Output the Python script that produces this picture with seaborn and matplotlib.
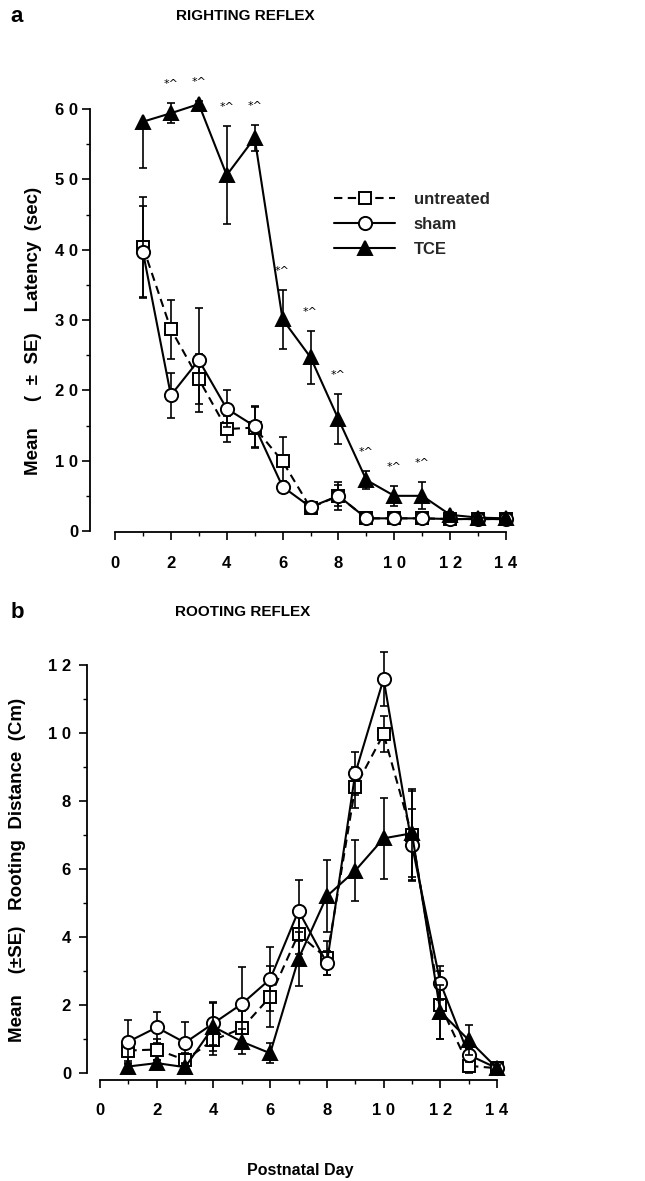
import matplotlib
matplotlib.use("Agg")
import matplotlib.pyplot as plt
from matplotlib.lines import Line2D
from matplotlib.ticker import FixedLocator
import numpy as np
import pandas as pd
import seaborn as sns

# ---------------- data ----------------
days = list(range(1, 15))
groups = ["untreated", "sham", "TCE"]

# Panel a: righting reflex latency (sec)
untreated_a = [40.4, 28.7, 21.6, 14.5, 14.7, 9.9, 3.3, 5.0, 1.8, 1.8, 1.8, 1.7, 1.7, 1.7]
untreated_a_se = [7.1, 4.2, 3.5, 1.9, 2.9, 3.5, 0.5, 2.0, 0.3, 0.3, 0.3, 0.2, 0.2, 0.2]
sham_a = [39.7, 19.3, 24.3, 17.4, 14.9, 6.3, 3.4, 5.0, 1.8, 1.8, 1.8, 1.7, 1.7, 1.7]
sham_a_se = [6.5, 3.2, 7.4, 2.6, 2.9, 0.8, 0.5, 1.5, 0.3, 0.3, 0.3, 0.2, 0.2, 0.2]
tce_a = [58.2, 59.4, 60.7, 50.6, 55.9, 30.1, 24.7, 15.9, 7.25, 5.0, 5.0, 2.3, 1.9, 1.8]
tce_a_se_lo = [6.6, 1.4, 0.5, 7.0, 1.8, 4.2, 3.8, 3.6, 1.3, 1.4, 1.9, 0.4, 0.2, 0.2]
tce_a_se_hi = [0.0, 1.4, 0.5, 7.0, 1.8, 4.2, 3.8, 3.6, 1.3, 1.4, 1.9, 0.4, 0.2, 0.2]
sig_days = [2, 3, 4, 5, 6, 7, 8, 9, 10, 11]
sig_label = "*^"

# Panel b: rooting distance (cm)
untreated_b = [0.67, 0.70, 0.39, 0.98, 1.32, 2.25, 4.10, 3.38, 8.41, 9.98, 7.00, 2.00, 0.22, 0.15]
untreated_b_se = [0.30, 0.30, 0.20, 0.45, 0.50, 0.90, 0.60, 0.50, 0.60, 0.52, 1.30, 1.00, 0.20, 0.10]
sham_b = [0.93, 1.35, 0.90, 1.47, 2.04, 2.77, 4.78, 3.24, 8.82, 11.60, 6.71, 2.66, 0.54, 0.15]
sham_b_se = [0.65, 0.45, 0.60, 0.63, 1.08, 0.95, 0.90, 0.35, 0.62, 0.80, 1.05, 0.50, 0.20, 0.10]
tce_b = [0.20, 0.30, 0.18, 1.37, 0.93, 0.59, 3.37, 5.21, 5.96, 6.91, 7.06, 1.81, 0.98, 0.15]
tce_b_se = [0.10, 0.10, 0.10, 0.70, 0.36, 0.30, 0.80, 1.05, 0.90, 1.20, 1.30, 0.80, 0.45, 0.10]

title_a = "RIGHTING REFLEX"
title_b = "ROOTING REFLEX"
ylabel_a = "Mean     (  \u00b1  SE)    Latency  (sec)"
ylabel_b = "Mean    (\u00b1SE)   Rooting  Distance  (Cm)"
xlabel = "Postnatal Day"
xticks = [0, 2, 4, 6, 8, 10, 12, 14]
yticks_a = [0, 10, 20, 30, 40, 50, 60]
yticks_b = [0, 2, 4, 6, 8, 10, 12]


def spaced(v):
    return " ".join(str(v))


# ---------------- style ----------------
sns.set_theme(style="ticks")
plt.rcParams["font.family"] = ["Liberation Sans", "DejaVu Sans"]
plt.rcParams["font.weight"] = "bold"

W, H = 645, 1181
fig = plt.figure(figsize=(W / 100, H / 100), dpi=100)


def px_axes(l, r, t, b):
    return fig.add_axes([l / W, 1 - b / H, (r - l) / W, (b - t) / H])


styles = {
    "untreated": dict(marker="s", ms=8.5, mfc="white", ls=(0, (4.0, 2.6))),
    "sham": dict(marker="o", ms=9.5, mfc="white", ls="-"),
    "TCE": dict(marker="^", ms=10, mfc="black", ls="-"),
}


def draw_panel(ax, vals, errs, yticks, minor_y):
    for i, g in enumerate(groups):
        st = styles[g]
        df = pd.DataFrame({"day": days, "value": vals[g]})
        ax.errorbar(days, vals[g], yerr=errs[g], fmt="none", ecolor="black",
                    elinewidth=1.2, capsize=2.6, capthick=1.2, zorder=2 + i)
        sns.lineplot(data=df, x="day", y="value", ax=ax, color="black",
                     marker=st["marker"], markersize=st["ms"],
                     markerfacecolor=st["mfc"], markeredgecolor="black",
                     markeredgewidth=1.4, linestyle=st["ls"], linewidth=1.5,
                     estimator=None, errorbar=None, clip_on=False,
                     zorder=3 + i)
    ax.set_xlabel("")
    ax.set_ylabel("")
    for s in ["top", "right"]:
        ax.spines[s].set_visible(False)
    for s in ["left", "bottom"]:
        ax.spines[s].set_linewidth(1.3)
        ax.spines[s].set_color("black")
    ax.spines["bottom"].set_bounds(0, 14)
    ax.spines["left"].set_bounds(yticks[0], yticks[-1])
    ax.set_xticks(xticks)
    ax.set_xticklabels([spaced(v) for v in xticks])
    ax.xaxis.set_minor_locator(FixedLocator(list(range(0, 15))))
    ax.set_yticks(yticks)
    ax.set_yticklabels([spaced(v) for v in yticks])
    ax.yaxis.set_minor_locator(FixedLocator(minor_y))
    ax.tick_params(axis="both", which="major", direction="out", length=5.5,
                   width=1.2, colors="black", labelsize=12)
    ax.tick_params(axis="both", which="minor", direction="out", length=3,
                   width=1.0, colors="black")
    for lab in ax.get_xticklabels() + ax.get_yticklabels():
        lab.set_fontweight("bold")


# ----- panel a -----
axa = px_axes(90, 520, 60, 532)
vals_a = {"untreated": untreated_a, "sham": sham_a, "TCE": tce_a}
errs_a = {"untreated": untreated_a_se, "sham": sham_a_se,
          "TCE": np.array([tce_a_se_lo, tce_a_se_hi])}
draw_panel(axa, vals_a, errs_a, yticks_a, [5, 15, 25, 35, 45, 55])
axa.set_xlim((90 - 115) / 27.93, (520 - 115) / 27.93)
axa.set_ylim((531 - 532) / 7.033, (531 - 60) / 7.033)
axa.tick_params(axis="x", which="major", pad=12)
axa.tick_params(axis="y", which="major", pad=3)

for d in sig_days:
    i = days.index(d)
    axa.text(d, tce_a[i] + tce_a_se_hi[i] + 2.7, sig_label, ha="center",
             va="center", fontsize=8, fontweight="normal", color="black",
             family="DejaVu Sans")

handles = [
    Line2D([], [], color="black", lw=1.5, ls=styles[g]["ls"],
           marker=styles[g]["marker"], ms=styles[g]["ms"],
           mfc=styles[g]["mfc"], mec="black", mew=1.4)
    for g in groups
]
leg = axa.legend(handles, groups, loc="upper left",
                 bbox_to_anchor=((327 - 90) / 430, 1 - (185 - 60) / 472),
                 frameon=False, handlelength=3.7, handletextpad=1.1,
                 labelspacing=0.62, fontsize=12, borderaxespad=0)
for t in leg.get_texts():
    t.set_fontweight("bold")

# ----- panel b -----
axb = px_axes(87, 520, 640, 1080)
vals_b = {"untreated": untreated_b, "sham": sham_b, "TCE": tce_b}
errs_b = {"untreated": untreated_b_se, "sham": sham_b_se, "TCE": tce_b_se}
draw_panel(axb, vals_b, errs_b, yticks_b, [1, 3, 5, 7, 9, 11])
axb.set_xlim((87 - 100) / 28.36, (520 - 100) / 28.36)
axb.set_ylim((1073.3 - 1080) / 34.0, (1073.3 - 640) / 34.0)
axb.tick_params(axis="x", which="major", pad=11)
axb.tick_params(axis="y", which="major", pad=6)


# ----- figure text -----
def ftext(x, y, s, **kw):
    fig.text(x / W, 1 - y / H, s, color="black", **kw)


ftext(17, 16, "a", fontsize=16, fontweight="bold", ha="center", va="center")
ftext(17, 613, "b", fontsize=16, fontweight="bold", ha="center", va="center")
ftext(245, 16, title_a, fontsize=11, fontweight="bold", ha="center", va="center")
ftext(243, 612, title_b, fontsize=11, fontweight="bold", ha="center", va="center")
ftext(34, 331, ylabel_a, fontsize=13.5, fontweight="bold", ha="center",
      va="center", rotation=90)
ftext(18, 870, ylabel_b, fontsize=13.5, fontweight="bold", ha="center",
      va="center", rotation=90)
ftext(300, 1170, xlabel, fontsize=11.5, fontweight="bold", ha="center",
      va="center")

fig.savefig("out.png", dpi=100, facecolor="white")
